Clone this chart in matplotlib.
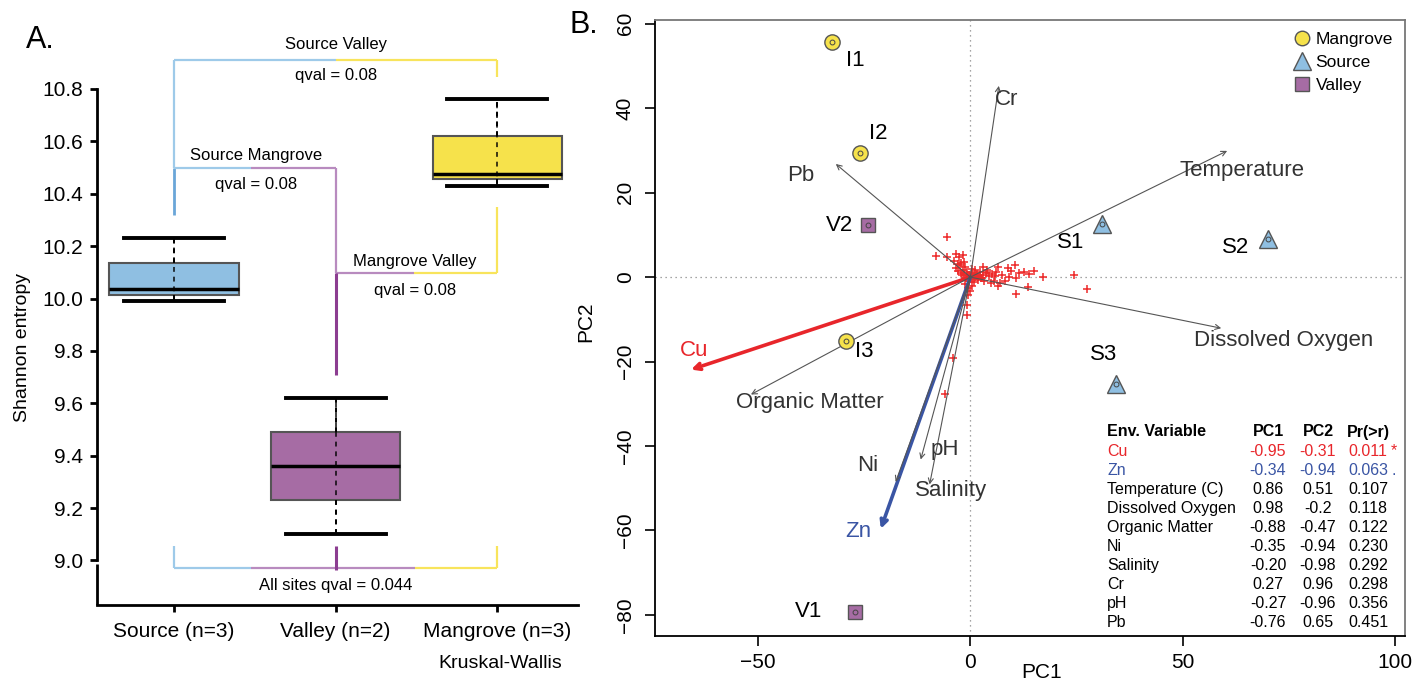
import matplotlib.pyplot as plt
from matplotlib.lines import Line2D

plt.rcParams['font.family'] = ['Liberation Sans', 'DejaVu Sans']

W, H = 1427, 684

# ---- panel A: Shannon entropy box plots ----
groups = ['Source (n=3)', 'Valley (n=2)', 'Mangrove (n=3)']
box_low = [9.99, 9.10, 10.43]
box_q1 = [10.015, 9.23, 10.455]
box_med = [10.035, 9.36, 10.475]
box_q3 = [10.135, 9.49, 10.62]
box_high = [10.23, 9.62, 10.76]
box_colors = ['#8fbfe2', '#a66ca4', '#f6e24b']

pair_names = ['Source Valley', 'Source Mangrove', 'Mangrove Valley']
pair_qvals = [0.08, 0.08, 0.08]
all_sites_qval = 0.044

# ---- panel B: PCA biplot ----
sites = ['I1', 'I2', 'I3', 'V1', 'V2', 'S1', 'S2', 'S3']
site_group = ['Mangrove', 'Mangrove', 'Mangrove', 'Valley', 'Valley', 'Source', 'Source', 'Source']
site_pc1 = [-32.6, -26.0, -29.3, -27.2, -24.2, 31.1, 70.1, 34.2]
site_pc2 = [55.6, 29.5, -15.1, -79.2, 12.3, 12.5, 9.0, -25.4]

env_vars = ['Cu', 'Zn', 'Temperature (C)', 'Dissolved Oxygen', 'Organic Matter',
            'Ni', 'Salinity', 'Cr', 'pH', 'Pb']
env_pc1 = [-0.95, -0.34, 0.86, 0.98, -0.88, -0.35, -0.20, 0.27, -0.27, -0.76]
env_pc2 = [-0.31, -0.94, 0.51, -0.2, -0.47, -0.94, -0.98, 0.96, -0.96, 0.65]
env_pr = ['0.011', '0.063', '0.107', '0.118', '0.122', '0.230', '0.292', '0.298', '0.356', '0.451']
env_signif = ['*', '.', '', '', '', '', '', '', '', '']
# arrow tips as drawn (scaled scores)
arrow_x = [-65.8, -21.1, 60.5, 59.1, -51.7, -17.6, -9.6, 6.7, -11.7, -31.7]
arrow_y = [-21.9, -59.6, 29.9, -12.1, -27.8, -48.5, -49.1, 45.3, -43.2, 26.8]
arrow_names = ['Cu', 'Zn', 'Temperature', 'Dissolved Oxygen', 'Organic Matter',
               'Ni', 'Salinity', 'Cr', 'pH', 'Pb']

species_pc1 = [-8.0, -5.6, -5.6, -3.4, -2.7, -2.1, -3.3, -1.7, -2.5, -1.2, -0.8, -1.5, -2.2,
               -0.4, 0.3, 0.8, 1.5, 2.2, 2.9, 3.6, 4.3, 5.1, 5.8, 6.6, 8.8, 10.4, 9.6, 12.7,
               13.9, 10.8, 17.1, 24.3, 27.5, 13.5, 10.8, 6.5, 4.9, 3.2, 1.8, 0.9, -0.5, -0.9,
               -4.1, -6.0, 0.4, -0.3, 2.5, 7.5, 8.2, 4.0, 1.2, -1.0, 0.0, 1.0, 2.0, -0.6,
               -1.3, 6.0, 11.5, 9.0, 3.0, -3.8, -1.8, 5.5, 15.0, 7.0, -0.2, 0.6, 1.6, -0.7,
               -2.9, -1.9, -0.9, 0.2, 1.3, 2.7, 3.9, -3.0, -1.4, 0.5]
species_pc2 = [5.0, 4.7, 9.5, 5.4, 4.8, 3.4, 2.1, 1.7, 2.8, 2.5, 1.2, 0.8, 1.0,
               0.6, 0.9, 0.4, 0.7, 1.1, 0.5, 0.9, 0.3, 0.8, 0.2, 2.4, 2.1, 2.8, 1.5, 1.3,
               0.7, -0.1, 0.1, 0.5, -2.9, -2.3, -3.9, -2.1, -1.5, -1.0, -0.6, -1.2, -4.3, -6.6,
               -19.2, -27.7, -2.0, -1.0, -0.3, 0.6, -0.8, 1.6, 1.8, -0.3, 0.0, 0.1, 0.2, -2.5,
               -1.6, 1.2, 1.0, 0.0, 2.3, 3.8, 5.2, -0.9, 1.5, -1.5, -3.2, -0.4, 0.3, -9.0,
               1.4, 0.4, 0.3, -0.5, 0.5, -0.2, 1.2, 3.0, 3.6, 2.0]

group_style = {
    'Mangrove': dict(marker='o', ms=11, color='#f6e24b'),
    'Source': dict(marker='^', ms=13, color='#8fbfe2'),
    'Valley': dict(marker='s', ms=10.5, color='#a66ca4'),
}


def px(x, y):
    return x / W, 1 - y / H


fig = plt.figure(figsize=(W / 100, H / 100), dpi=100)

# ================= panel A =================
ax1 = fig.add_axes([97 / W, 1 - 605 / H, (578 - 97) / W, (605 - 89) / H])
pos = [1, 2, 3]
stats = []
for i in range(3):
    stats.append(dict(med=box_med[i], q1=box_q1[i], q3=box_q3[i],
                      whislo=box_low[i], whishi=box_high[i], fliers=[]))
bp = ax1.bxp(stats, positions=pos, widths=0.8, capwidths=0.62, patch_artist=True,
             showfliers=False,
             boxprops=dict(edgecolor='#555555', linewidth=1.5),
             medianprops=dict(color='black', linewidth=2.5),
             whiskerprops=dict(color='black', linewidth=1.4, linestyle=(0, (2.5, 2.5))),
             capprops=dict(color='black', linewidth=2.8))
for patch, c in zip(bp['boxes'], box_colors):
    patch.set_facecolor(c)
# dashed whisker line runs through the box
ax1.vlines(pos, box_low, box_high, colors='black', linewidth=1.4,
           linestyles=(0, (2.5, 2.5)), zorder=3, alpha=0.75)

ax1.set_xlim(0.523, 3.5)
ax1.set_ylim(8.83, 10.8)
ax1.spines['top'].set_visible(False)
ax1.spines['right'].set_visible(False)
ax1.spines['left'].set_bounds(9.0, 10.8)
ax1.spines['left'].set_linewidth(2)
ax1.spines['bottom'].set_linewidth(2)
ax1.plot([0.523, 0.523], [8.83, 8.985], color='black', lw=2, clip_on=False,
         solid_capstyle='butt')
ax1.set_yticks([9.0, 9.2, 9.4, 9.6, 9.8, 10.0, 10.2, 10.4, 10.6, 10.8])
ax1.set_xticks(pos)
ax1.set_xticklabels(groups)
ax1.tick_params(axis='both', labelsize=15, length=5, width=2, pad=5)
ax1.tick_params(axis='x', pad=7)
ax1.set_ylabel('Shannon entropy', fontsize=14, labelpad=8)

blue_l = '#9ecae9'
blue_d = '#6aa6d8'
purp_l = '#b88bbf'
purp_d = '#8c3d91'
yel = '#f8e45c'


def seg(xs, ys, c, lw=1.6):
    ax1.plot(xs, ys, color=c, lw=lw, clip_on=False, solid_capstyle='butt')


# Source Valley bracket (top)
seg([1, 1], [10.50, 10.91], blue_l)
seg([1, 2.0], [10.91, 10.91], blue_l)
seg([2.0, 3], [10.91, 10.91], yel)
seg([3, 3], [10.91, 10.847], yel)
ax1.text(2.0, 10.968, pair_names[0], ha='center', va='center', fontsize=12, clip_on=False)
ax1.text(2.0, 10.853, f'qval = {pair_qvals[0]}', ha='center', va='center', fontsize=12)

# Source Mangrove bracket
seg([1, 1], [10.32, 10.50], blue_d, lw=2)
seg([1, 1.477], [10.50, 10.50], blue_l)
seg([1.477, 2], [10.50, 10.50], purp_l)
seg([2, 2], [10.50, 10.098], purp_l)
ax1.text(1.51, 10.548, pair_names[1], ha='center', va='center', fontsize=12)
ax1.text(1.51, 10.437, f'qval = {pair_qvals[1]}', ha='center', va='center', fontsize=12)

# Mangrove Valley bracket
seg([2, 2.487], [10.098, 10.098], purp_l)
seg([2.487, 3], [10.098, 10.098], yel)
seg([3, 3], [10.098, 10.35], yel)
seg([2, 2], [10.098, 9.71], purp_d, lw=2.2)
ax1.text(2.49, 10.14, pair_names[2], ha='center', va='center', fontsize=12)
ax1.text(2.49, 10.03, f'qval = {pair_qvals[2]}', ha='center', va='center', fontsize=12)

# all sites bracket
seg([1, 1], [8.972, 9.056], blue_l)
seg([1, 1.477], [8.972, 8.972], blue_l)
seg([1.477, 2.49], [8.972, 8.972], purp_l)
seg([2.49, 3], [8.972, 8.972], yel)
seg([3, 3], [8.972, 9.056], yel)
seg([2, 2], [8.962, 9.056], purp_d, lw=2.2)
ax1.text(2.0, 8.903, f'All sites qval = {all_sites_qval}', ha='center', va='center',
         fontsize=12)

fig.text(*px(500, 664), 'Kruskal-Wallis', ha='center', va='center', fontsize=14)
fig.text(*px(40, 40), 'A.', ha='center', va='center', fontsize=22)
fig.text(*px(584, 25), 'B.', ha='center', va='center', fontsize=22)

# ================= panel B =================
ax2 = fig.add_axes([655 / W, 1 - 636 / H, (1405 - 655) / W, (636 - 20) / H])
ax2.set_xlim(-74.3, 102.4)
ax2.set_ylim(-85.0, 60.9)
for s in ['top', 'right']:
    ax2.spines[s].set_color('#777777')
    ax2.spines[s].set_linewidth(1.3)
for s in ['left', 'bottom']:
    ax2.spines[s].set_linewidth(1.3)
ax2.axhline(0, color='#888888', lw=0.9, ls=(0, (1, 3)), zorder=1)
ax2.axvline(0, color='#888888', lw=0.9, ls=(0, (1, 3)), zorder=1)
ax2.set_xticks([-50, 0, 50, 100])
ax2.set_yticks([-80, -60, -40, -20, 0, 20, 40, 60])
ax2.tick_params(axis='both', labelsize=15, length=7, width=1.2)
ax2.tick_params(axis='y', pad=7.5)
ax2.tick_params(axis='x', pad=5)
plt.setp(ax2.get_yticklabels(), rotation=90, va='center')

# species scores
ax2.plot(species_pc1, species_pc2, ls='none', marker='+', ms=6, mew=1.1,
         color='#ee2a2a', zorder=2)

# env arrows
for name, ax_, ay_ in zip(arrow_names, arrow_x, arrow_y):
    if name == 'Cu':
        c, lw, ms = '#e8262b', 2.6, 11
    elif name == 'Zn':
        c, lw, ms = '#3a55a4', 2.6, 11
    else:
        c, lw, ms = '#555555', 0.8, 9
    ax2.annotate('', xy=(ax_, ay_), xytext=(0, 0),
                 arrowprops=dict(arrowstyle='->', color=c, lw=lw, shrinkA=0, shrinkB=0,
                                 mutation_scale=ms), zorder=3)

arrow_label_pos = {
    'Cu': (-65.0, -17.3), 'Zn': (-26.5, -60.3), 'Temperature': (64.0, 25.3),
    'Dissolved Oxygen': (73.7, -14.9), 'Organic Matter': (-37.8, -29.6),
    'Ni': (-24.2, -44.7), 'Salinity': (-4.5, -50.6), 'Cr': (8.5, 42.0),
    'pH': (-6.1, -40.9), 'Pb': (-40.0, 24.0),
}
for name in arrow_names:
    c = '#333333'
    if name == 'Cu':
        c = '#e8262b'
    elif name == 'Zn':
        c = '#3a55a4'
    ax2.text(*arrow_label_pos[name], name, ha='center', va='center', fontsize=16, color=c)

# sites
for s, g, x, y in zip(sites, site_group, site_pc1, site_pc2):
    st = group_style[g]
    ax2.plot(x, y, ls='none', marker=st['marker'], ms=st['ms'], mfc=st['color'],
             mec='#555555', mew=1.0, zorder=5)
    ax2.plot(x, y, ls='none', marker='o', ms=3.5, mfc='none', mec='#444444', mew=0.7,
             zorder=6)

site_label_pos = {
    'I1': (-27.2, 51.3), 'I2': (-21.8, 34.0), 'V2': (-30.8, 12.3), 'I3': (-25.1, -17.7),
    'V1': (-38.0, -79.2), 'S1': (23.7, 8.3), 'S2': (62.4, 6.9), 'S3': (31.5, -18.4),
}
for s in sites:
    ax2.text(*site_label_pos[s], s, ha='center', va='center', fontsize=16)

# legend
handles = [Line2D([], [], ls='none', marker=group_style[g]['marker'],
                  ms=group_style[g]['ms'] * 0.95, mfc=group_style[g]['color'],
                  mec='#555555', mew=1.0) for g in ['Mangrove', 'Source', 'Valley']]
ax2.legend(handles, ['Mangrove', 'Source', 'Valley'], loc='upper right',
           bbox_to_anchor=(1.0, 1.0), frameon=False, fontsize=12.5,
           handlelength=1.0, handletextpad=0.3, labelspacing=0.45, borderaxespad=0.3)

fig.text(*px(1042, 673), 'PC1', ha='center', va='center', fontsize=15)
fig.text(*px(586, 322), 'PC2', ha='center', va='center', fontsize=15, rotation=90)

# table of env fit
tfs = 11.5
y0 = 432
dy = 19.06
fig.text(*px(1107, y0), 'Env. Variable', ha='left', va='center', fontsize=tfs,
         fontweight='bold')
fig.text(*px(1268, y0), 'PC1', ha='center', va='center', fontsize=tfs, fontweight='bold')
fig.text(*px(1318, y0), 'PC2', ha='center', va='center', fontsize=tfs, fontweight='bold')
fig.text(*px(1368, y0), 'Pr(>r)', ha='center', va='center', fontsize=tfs,
         fontweight='bold')
for i, name in enumerate(env_vars):
    y = y0 + dy * (i + 1)
    c = 'black'
    if name == 'Cu':
        c = '#e8262b'
    elif name == 'Zn':
        c = '#3a55a4'
    fig.text(*px(1107, y), name, ha='left', va='center', fontsize=tfs, color=c)
    fig.text(*px(1268, y), f'{env_pc1[i]:.2f}', ha='center', va='center', fontsize=tfs,
             color=c)
    fig.text(*px(1318, y), str(env_pc2[i]), ha='center', va='center', fontsize=tfs, color=c)
    fig.text(*px(1368, y), env_pr[i], ha='center', va='center', fontsize=tfs, color=c)
    if env_signif[i]:
        fig.text(*px(1394, y), env_signif[i], ha='center', va='center', fontsize=tfs, color=c)

fig.savefig('out.png', dpi=100)
